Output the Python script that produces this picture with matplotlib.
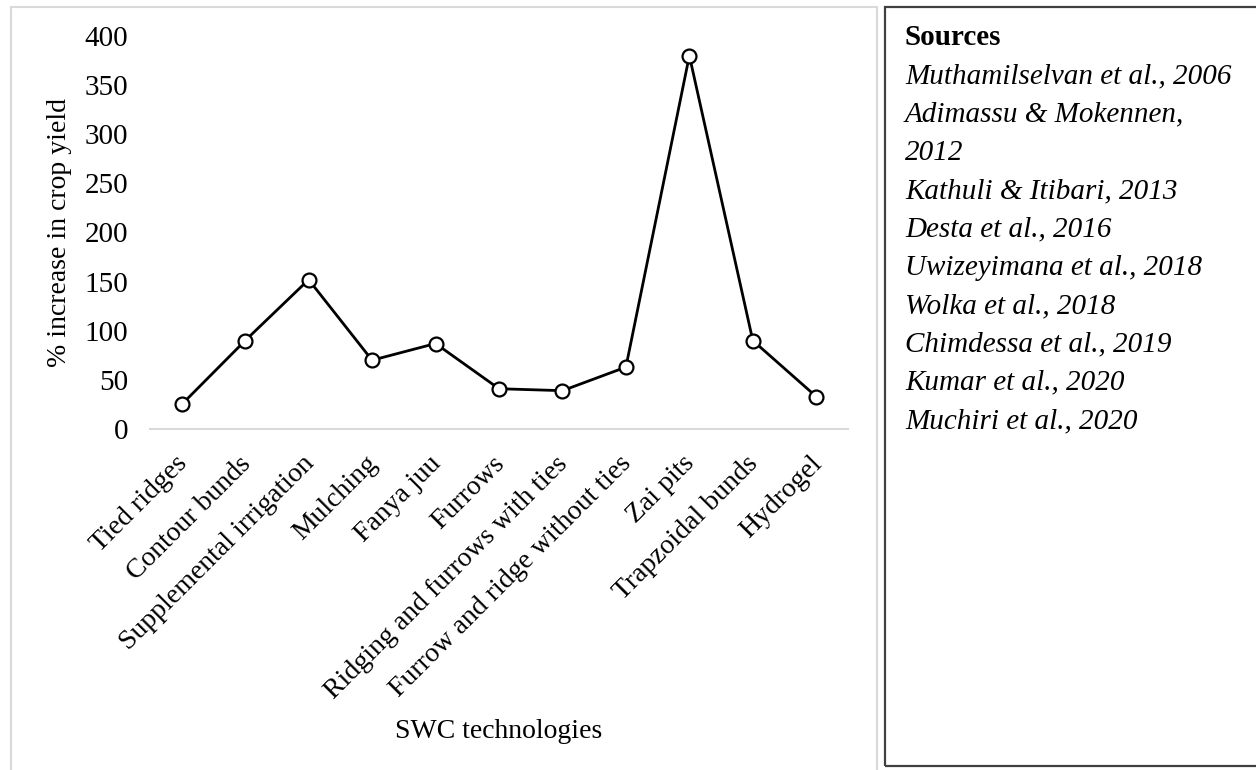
import matplotlib
matplotlib.use("Agg")
import matplotlib.pyplot as plt
from matplotlib.patches import Rectangle
from matplotlib.transforms import ScaledTranslation

plt.rcParams['font.family'] = ['Liberation Serif', 'DejaVu Serif']

technologies = [
    "Tied ridges", "Contour bunds", "Supplemental irrigation", "Mulching",
    "Fanya juu", "Furrows", "Ridging and furrows with ties",
    "Furrow and ridge without ties", "Zai pits", "Trapzoidal bunds", "Hydrogel",
]
yield_increase = [25, 90, 152, 70, 87, 41, 39, 63, 380, 90, 33]
y_ticks = [0, 50, 100, 150, 200, 250, 300, 350, 400]
sources = [
    "Muthamilselvan et al., 2006",
    "Adimassu & Mokennen,",
    "2012",
    "Kathuli & Itibari, 2013",
    "Desta et al., 2016",
    "Uwizeyimana et al., 2018",
    "Wolka et al., 2018",
    "Chimdessa et al., 2019",
    "Kumar et al., 2020",
    "Muchiri et al., 2020",
]

W, H = 1256, 770
fig = plt.figure(figsize=(W / 100, H / 100), dpi=100)

def fx(px):
    return px / W

def fy(py):
    return 1 - py / H

# panel frames
fig.patches.append(Rectangle((fx(11), fy(772)), fx(877 - 11), fy(7) - fy(772),
                             transform=fig.transFigure, fill=False,
                             edgecolor='#d9d9d9', linewidth=1.5))
fig.patches.append(Rectangle((fx(885), fy(766)), fx(1260 - 885), fy(7) - fy(766),
                             transform=fig.transFigure, fill=False,
                             edgecolor='#404040', linewidth=1.6))

ax = fig.add_axes([fx(150), fy(429), fx(848 - 150), fy(36) - fy(429)])
x = list(range(len(technologies)))
ax.plot(x, yield_increase, color='black', linewidth=2.0, marker='o',
        markersize=10, markerfacecolor='white', markeredgecolor='black',
        markeredgewidth=1.6, zorder=3)
ax.set_xlim(-0.5, len(technologies) - 0.5)
ax.set_ylim(0, 400)
ax.set_yticks(y_ticks)
ax.set_yticklabels([str(v) for v in y_ticks], fontsize=21)
ax.set_xticks(x)
ax.set_xticklabels(technologies, rotation=45, ha='right', va='top',
                   rotation_mode='anchor', fontsize=20)
ax.tick_params(axis='both', length=0)
ax.tick_params(axis='y', pad=15.5)
ax.tick_params(axis='x', pad=16)
# nudge the rotated category labels slightly left
shift = ScaledTranslation(-0.07, 0, fig.dpi_scale_trans)
for lbl in ax.get_xticklabels():
    lbl.set_transform(lbl.get_transform() + shift)
for side in ['top', 'right', 'left']:
    ax.spines[side].set_visible(False)
ax.spines['bottom'].set_color('#d9d9d9')
ax.spines['bottom'].set_linewidth(1.5)

fig.text(fx(60), fy(232.5), "% increase in crop yield", fontsize=20,
         rotation=90, ha='center', va='center')
fig.text(fx(499), fy(731), "SWC technologies", fontsize=20,
         ha='center', va='center')

# sources list
fig.text(fx(905), fy(45), "Sources", fontsize=21, fontweight='bold',
         ha='left', va='baseline')
for i, s in enumerate(sources):
    fig.text(fx(905), fy(45 + 38.3 * (i + 1)), s, fontsize=21,
             style='italic', ha='left', va='baseline')

fig.savefig("out.png", dpi=100)
